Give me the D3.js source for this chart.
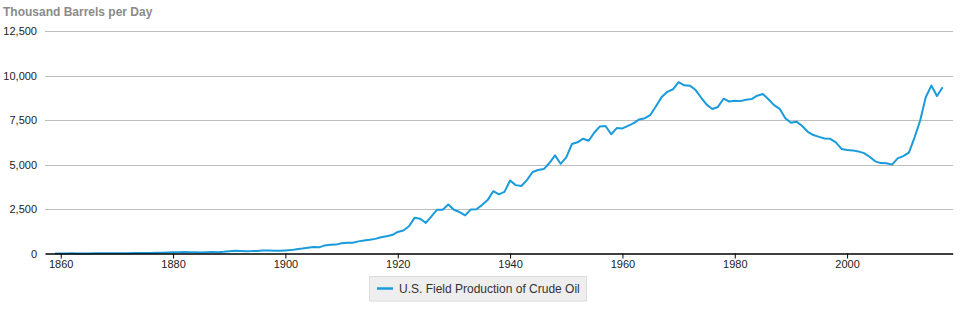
<!DOCTYPE html>
<html>
<head>
<meta charset="utf-8">
<script src="https://cdn.jsdelivr.net/npm/d3@7"></script>
<style>
  html, body { margin: 0; padding: 0; background: #fff; }
  svg { display: block; font-family: "Liberation Sans", Arial, sans-serif; }
</style>
</head>
<body>
<svg id="chart" width="971" height="325"></svg>
<script>
const startYear = 1859;
const production = [
  0, 1, 6, 8, 7, 6, 7, 10, 9, 10, 12,
  14, 14, 17, 27, 30, 24, 25, 37, 42, 55,
  72, 76, 83, 64, 66, 60, 77, 78, 76, 96,
  125, 149, 138, 133, 135, 145, 166, 165, 152, 156,
  174, 190, 243, 275, 321, 369, 346, 455, 488, 500,
  574, 604, 610, 682, 727, 770, 823, 917, 975, 1037,
  1214, 1294, 1531, 2007, 1956, 1720, 2090, 2466, 2466, 2760,
  2460, 2332, 2145, 2474, 2488, 2723, 3003, 3505, 3327, 3466,
  4107, 3847, 3796, 4125, 4584, 4695, 4749, 5088, 5520, 5046,
  5407, 6158, 6256, 6458, 6342, 6807, 7151, 7170, 6710, 7054,
  7035, 7183, 7332, 7542, 7614, 7804, 8295, 8810, 9096, 9238,
  9637, 9463, 9441, 9208, 8774, 8375, 8132, 8245, 8707, 8552,
  8597, 8572, 8649, 8688, 8879, 8971, 8680, 8349, 8140, 7613,
  7355, 7417, 7171, 6847, 6662, 6560, 6465, 6452, 6252, 5881,
  5822, 5801, 5744, 5649, 5441, 5184, 5086, 5077, 5000, 5353,
  5482, 5674, 6523, 7467, 8793, 9446, 8857, 9357
];
const years = production.map((_, i) => startYear + i);
const xTicks = [1860, 1880, 1900, 1920, 1940, 1960, 1980, 2000];
const yTicks = [0, 2500, 5000, 7500, 10000, 12500];
const yTitle = "Thousand Barrels per Day";
const seriesName = "U.S. Field Production of Crude Oil";

(function () {
const FONT = "'Liberation Sans', Arial, sans-serif";
const svg = d3.select("#chart");
const mLeft = 45, mRight = 952.7, mTop = 31.3, mBottom = 253.5;

const x = d3.scaleLinear().domain([1857.2, 2018.8]).range([mLeft, mRight]);
const y = d3.scaleLinear().domain([0, 12500]).range([mBottom, mTop]);

// gridlines + y labels
const yAxis = d3.axisLeft(y).tickValues(yTicks).tickSize(-(mRight - mLeft)).tickFormat(d3.format(","));
const gy = svg.append("g").attr("transform", `translate(${mLeft},0)`).call(yAxis);
gy.select(".domain").remove();
gy.selectAll(".tick line").attr("stroke", "#bdbdbd").attr("stroke-width", 1)
  .attr("shape-rendering", "crispEdges");
gy.selectAll(".tick text").attr("x", -8).attr("fill", "#222").attr("font-size", 11)
  .attr("font-family", FONT);
gy.selectAll(".tick").filter(d => d === 0).select("line").remove();

// title
svg.append("text").attr("x", 3).attr("y", 15.5).text(yTitle)
  .attr("font-family", FONT)
  .attr("font-size", 12).attr("font-weight", 700).attr("fill", "#8a8a8a");

// line
const line = d3.line().x((d, i) => x(years[i])).y(d => y(d));
svg.append("path").datum(production).attr("d", line)
  .attr("fill", "none").attr("stroke", "#1a9bdb").attr("stroke-width", 2)
  .attr("stroke-linejoin", "round");

// x axis
const xAxis = d3.axisBottom(x).tickValues(xTicks).tickFormat(d3.format("d")).tickSize(5).tickSizeOuter(0);
const gx = svg.append("g").attr("transform", `translate(0,${mBottom})`).call(xAxis);
gx.select(".domain").attr("stroke", "#000").attr("stroke-width", 1.5);
gx.selectAll(".tick line").attr("stroke", "#000");
gx.selectAll(".tick text").attr("y", 7).attr("fill", "#222").attr("font-size", 11)
  .attr("font-family", FONT);

// legend
const lg = svg.append("g").attr("transform", "translate(369,276)");
lg.append("rect").attr("x", 0.5).attr("y", 0.5).attr("width", 217).attr("height", 24.5)
  .attr("fill", "#eeeeee").attr("stroke", "#dcdcdc");
lg.append("line").attr("x1", 8).attr("x2", 24).attr("y1", 12.5).attr("y2", 12.5)
  .attr("stroke", "#1a9bdb").attr("stroke-width", 2.5);
lg.append("text").attr("x", 30).attr("y", 17).text(seriesName)
  .attr("font-family", FONT)
  .attr("font-size", 12).attr("fill", "#333");
})();
</script>
</body>
</html>
